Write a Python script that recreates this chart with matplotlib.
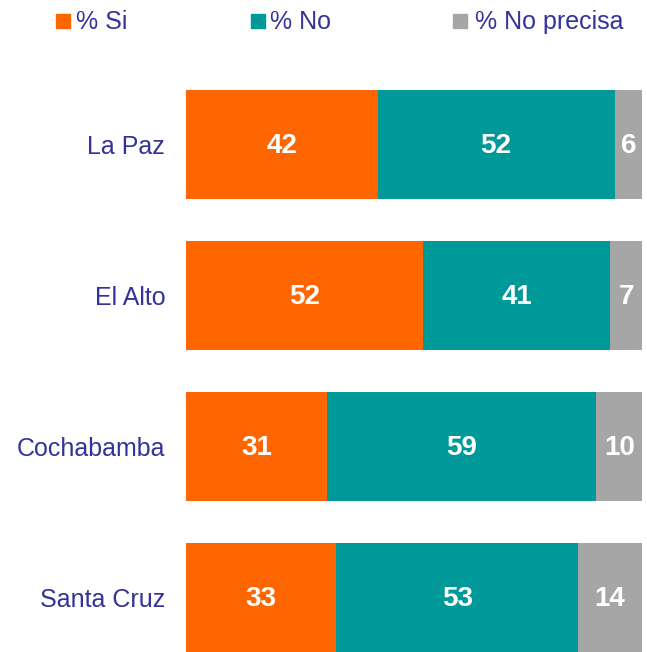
import numpy as np
import matplotlib.pyplot as plt
from matplotlib.patches import Rectangle

plt.rcParams['font.family'] = ['Liberation Sans', 'DejaVu Sans']

# Data
cities = ['La Paz', 'El Alto', 'Cochabamba', 'Santa Cruz']
si = [42, 52, 31, 33]
no = [52, 41, 59, 53]
no_precisa = [6, 7, 10, 14]
series_names = ['% Si', '% No', '% No precisa']
colors = ['#FF6600', '#009999', '#A6A6A6']
text_color = '#333399'

W, H = 647, 652
fig = plt.figure(figsize=(W / 100, H / 100), dpi=100)
ax = fig.add_axes([186 / W, 0, (642 - 186) / W, (652 - 90) / H])

y = np.arange(len(cities))
left = np.zeros(len(cities))
for vals, col in zip([si, no, no_precisa], colors):
    vals = np.array(vals)
    ax.barh(y, vals, left=left, height=0.72, color=col)
    for yi, l, v in zip(y, left, vals):
        ax.text(l + v / 2, yi + 0.01, str(v), ha='center', va='center',
                color='white', fontsize=20, fontweight='bold')
    left = left + vals

ax.set_xlim(0, 100)
ax.set_ylim(3.36, -0.36)
ax.set_yticks(y)
ax.set_yticklabels(cities, fontsize=18, color=text_color)
ax.tick_params(axis='y', length=0, pad=15)
ax.set_xticks([])
for s in ax.spines.values():
    s.set_visible(False)

# Legend drawn by hand
sq_x = [56, 251, 453]
txt_x = [76, 270, 475]
for x0, tx, name, col in zip(sq_x, txt_x, series_names, colors):
    fig.add_artist(Rectangle((x0 / W, 1 - 28 / H), 14 / W, 14 / H,
                             transform=fig.transFigure, color=col))
    fig.text(tx / W, 1 - 29 / H, name, fontsize=18,
             color=text_color, va='baseline', ha='left')

fig.savefig('out.png', dpi=100)
